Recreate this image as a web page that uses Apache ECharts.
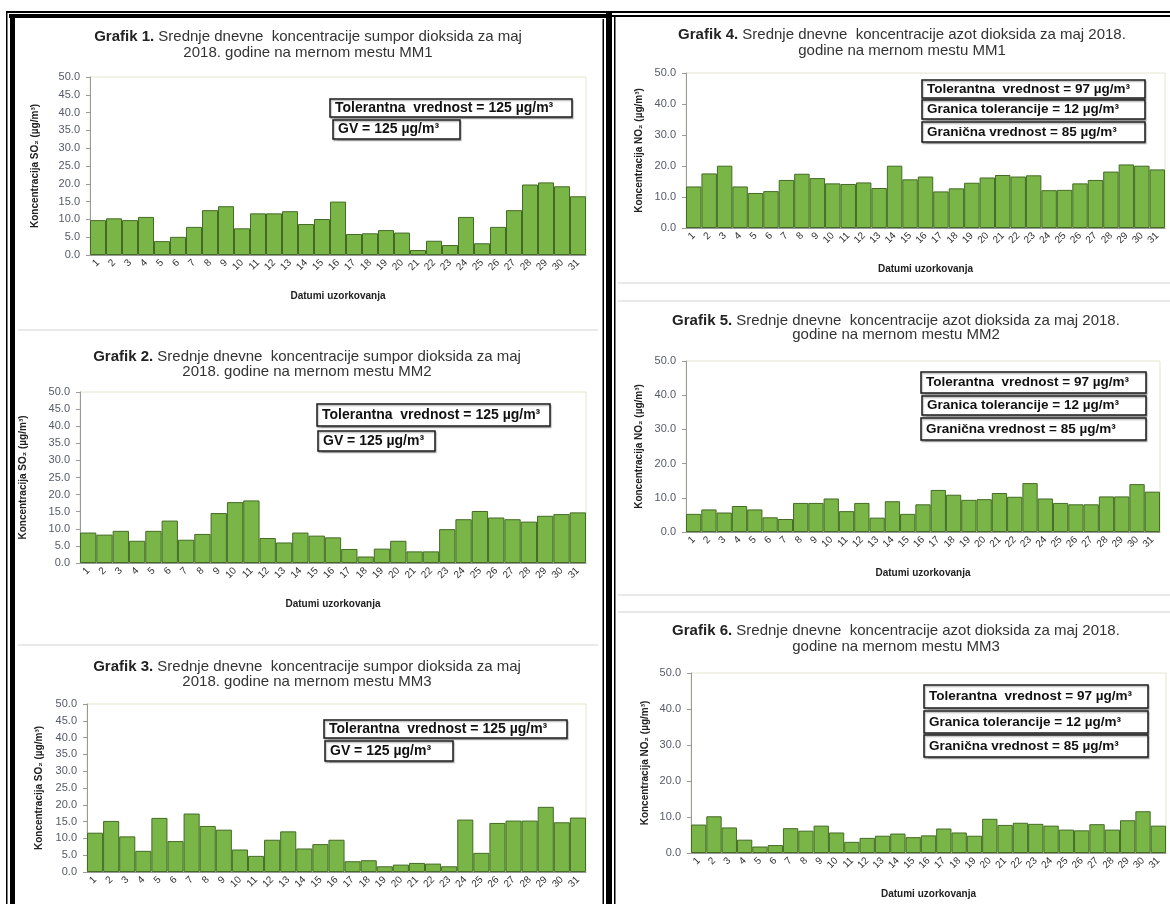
<!DOCTYPE html>
<html>
<head>
<meta charset="utf-8">
<script src="https://cdn.jsdelivr.net/npm/echarts@6/dist/echarts.min.js"></script>
<style>
  html, body { margin: 0; padding: 0; background: #ffffff; }
  #chart { width: 1170px; height: 904px; }
</style>
</head>
<body>
<div id="chart"></div>
<script>
// Days of May 2018
const days = ['1','2','3','4','5','6','7','8','9','10','11','12','13','14','15','16',
              '17','18','19','20','21','22','23','24','25','26','27','28','29','30','31'];

// Daily mean SO2 concentrations (µg/m³)
const so2MM1 = [9.8, 10.3, 9.8, 10.7, 3.9, 5.1, 7.9, 12.6, 13.7, 7.5, 11.7, 11.7, 12.3, 8.7, 10.1, 15.0,
                5.9, 6.1, 7.0, 6.3, 1.4, 4.0, 2.8, 10.7, 3.3, 7.9, 12.6, 19.8, 20.4, 19.3, 16.5];
const so2MM2 = [8.9, 8.3, 9.4, 6.5, 9.4, 12.4, 6.8, 8.5, 14.6, 17.8, 18.3, 7.3, 6.0, 8.9, 8.0, 7.5,
                4.1, 1.9, 4.2, 6.5, 3.4, 3.4, 9.9, 12.8, 15.2, 13.3, 12.8, 12.1, 13.8, 14.3, 14.8];
const so2MM3 = [11.7, 15.2, 10.6, 6.3, 16.1, 9.2, 17.4, 13.7, 12.6, 6.7, 4.8, 9.6, 12.1, 7.0, 8.3, 9.6,
                3.2, 3.5, 1.7, 2.2, 2.7, 2.5, 1.7, 15.6, 5.7, 14.6, 15.3, 15.3, 19.4, 14.8, 16.2];

// Daily mean NO2 concentrations (µg/m³)
const no2MM1 = [13.4, 17.6, 20.1, 13.4, 11.3, 11.9, 15.5, 17.5, 16.1, 14.4, 14.2, 14.7, 12.9, 20.1, 15.7, 16.6,
                11.8, 12.8, 14.6, 16.3, 17.1, 16.6, 17.0, 12.2, 12.3, 14.4, 15.5, 18.2, 20.5, 20.1, 18.9];
const no2MM2 = [5.3, 6.6, 5.7, 7.6, 6.6, 4.3, 3.8, 8.5, 8.5, 9.8, 6.1, 8.5, 4.2, 9.0, 5.3, 8.1,
                12.3, 10.9, 9.4, 9.6, 11.4, 10.3, 14.3, 9.8, 8.5, 8.1, 8.1, 10.4, 10.4, 14.0, 11.8];
const no2MM3 = [7.9, 10.2, 7.1, 3.7, 1.8, 2.2, 6.9, 6.2, 7.6, 5.7, 3.1, 4.2, 4.8, 5.4, 4.4, 4.9,
                6.8, 5.7, 4.8, 9.5, 7.8, 8.4, 8.1, 7.6, 6.5, 6.3, 8.0, 6.5, 9.1, 11.6, 7.6];

// Value axis ticks
const so2Axis = { min: 0, max: 50, interval: 5 };
const no2Axis = { min: 0, max: 50, interval: 10 };

// Limit value notes
const so2Notes = ['Tolerantna  vrednost = 125 µg/m³', 'GV = 125 µg/m³'];
const no2Notes = ['Tolerantna  vrednost = 97 µg/m³', 'Granica tolerancije = 12 µg/m³', 'Granična vrednost = 85 µg/m³'];

const so2Title = ['Srednje dnevne  koncentracije sumpor dioksida za maj', '2018. godine na mernom mestu '];
const no2Title = ['Srednje dnevne  koncentracije azot dioksida za maj 2018.', 'godine na mernom mestu '];

const xName = 'Datumi uzorkovanja';
const FONT = '"Liberation Sans", Arial, sans-serif';

// Layout of the six panels (pixels)
const panels = [
  { num: 1, station: 'MM1', data: so2MM1, axis: so2Axis, notes: so2Notes, title: so2Title, yName: 'Koncentracija SO₂ (µg/m³)',
    grid: { left: 90, top: 77, right: 586, bottom: 255 }, tx: 308, ty: [37, 53], yGap: 50, noteFont: 14, showXName: true,
    boxes: [[330, 99, 572, 117], [333, 120, 460, 139]] },
  { num: 2, station: 'MM2', data: so2MM2, axis: so2Axis, notes: so2Notes, title: so2Title, yName: 'Koncentracija SO₂ (µg/m³)',
    grid: { left: 80, top: 392, right: 586, bottom: 563 }, tx: 307, ty: [357, 372], yGap: 52, noteFont: 14, showXName: true,
    boxes: [[317, 404, 550, 426], [318, 431, 435, 451]] },
  { num: 3, station: 'MM3', data: so2MM3, axis: so2Axis, notes: so2Notes, title: so2Title, yName: 'Koncentracija SO₂ (µg/m³)',
    grid: { left: 87, top: 704, right: 586, bottom: 872 }, tx: 307, ty: [667, 682], yGap: 43, noteFont: 14, showXName: false,
    boxes: [[324, 720, 567, 738], [325, 741, 453, 761]] },
  { num: 4, station: 'MM1', data: no2MM1, axis: no2Axis, notes: no2Notes, title: no2Title, yName: 'Koncentracija NO₂ (µg/m³)',
    grid: { left: 686, top: 73, right: 1165, bottom: 228 }, tx: 902, ty: [35, 51], yGap: 42, noteFont: 13.5, showXName: true,
    boxes: [[922, 80, 1145, 98], [922, 100, 1145, 119], [922, 122, 1145, 142]] },
  { num: 5, station: 'MM2', data: no2MM2, axis: no2Axis, notes: no2Notes, title: no2Title, yName: 'Koncentracija NO₂ (µg/m³)',
    grid: { left: 686, top: 361, right: 1160, bottom: 532 }, tx: 896, ty: [321, 335], yGap: 42, noteFont: 13.5, showXName: true,
    boxes: [[921, 372, 1146, 393], [922, 396, 1146, 415], [921, 418, 1146, 440]] },
  { num: 6, station: 'MM3', data: no2MM3, axis: no2Axis, notes: no2Notes, title: no2Title, yName: 'Koncentracija NO₂ (µg/m³)',
    grid: { left: 691, top: 673, right: 1166, bottom: 853 }, tx: 896, ty: [631, 647], yGap: 41, noteFont: 13.5, showXName: true,
    boxes: [[924, 685, 1148, 708], [924, 711, 1148, 733], [924, 735, 1148, 757]] }
];

const grids = [], xAxes = [], yAxes = [], series = [], graphics = [];

panels.forEach((p, i) => {
  const g = p.grid;
  grids.push({
    left: g.left, top: g.top, width: g.right - g.left, height: g.bottom - g.top,
    show: true, borderColor: '#e6e4cc', borderWidth: 1, backgroundColor: 'transparent'
  });
  xAxes.push({
    type: 'category', gridIndex: i, data: days,
    axisLine: { show: true, lineStyle: { color: '#9a9a9a', width: 1 } },
    axisTick: { show: false },
    axisLabel: { interval: 0, rotate: 45, fontSize: 10, color: '#333', fontFamily: FONT, margin: 6 },
    name: p.showXName ? xName : '', nameLocation: 'middle', nameGap: 36,
    nameTextStyle: { fontSize: 10, fontWeight: 'bold', color: '#222', fontFamily: FONT }
  });
  yAxes.push({
    type: 'value', gridIndex: i, min: p.axis.min, max: p.axis.max, interval: p.axis.interval,
    axisLine: { show: true, lineStyle: { color: '#9a9a9a', width: 1 } },
    axisTick: { show: true, length: 4, lineStyle: { color: '#9a9a9a' } },
    splitLine: { show: false },
    axisLabel: { fontSize: 11, color: '#555a66', fontFamily: FONT, margin: 10, formatter: v => v.toFixed(1) },
    name: p.yName, nameLocation: 'middle', nameGap: p.yGap, nameRotate: 90,
    nameTextStyle: { fontSize: 10, fontWeight: 'bold', color: '#222', fontFamily: FONT }
  });
  series.push({
    type: 'bar', xAxisIndex: i, yAxisIndex: i, data: p.data,
    barCategoryGap: '0%',
    itemStyle: { color: '#7ab547', borderColor: '#436b25', borderWidth: 1 },
    emphasis: { disabled: true }, silent: true
  });

  // Two-line heading
  graphics.push({
    type: 'text', x: p.tx, y: p.ty[0], silent: true,
    style: {
      text: '{b|Grafik ' + p.num + '.} ' + p.title[0],
      rich: { b: { fontWeight: 'bold', fontSize: 15, fontFamily: FONT, fill: '#222' } },
      fontSize: 15, fontFamily: FONT, fill: '#333', align: 'center', verticalAlign: 'middle'
    }
  });
  graphics.push({
    type: 'text', x: p.tx, y: p.ty[1], silent: true,
    style: { text: p.title[1] + p.station, fontSize: 15, fontFamily: FONT, fill: '#333', align: 'center', verticalAlign: 'middle' }
  });

  // Limit value note boxes
  p.boxes.forEach((b, k) => {
    graphics.push({
      type: 'rect', silent: true,
      shape: { x: b[0], y: b[1], width: b[2] - b[0], height: b[3] - b[1] },
      style: { fill: '#ffffff', stroke: '#1a1a1a', lineWidth: 1.5, shadowColor: 'rgba(0,0,0,0.25)', shadowOffsetX: 1, shadowOffsetY: 1.5, shadowBlur: 1 }
    });
    graphics.push({
      type: 'text', silent: true, x: b[0] + 5, y: (b[1] + b[3]) / 2,
      style: { text: p.notes[k], fontSize: p.noteFont, fontWeight: 'bold', fontFamily: FONT, fill: '#111', verticalAlign: 'middle' }
    });
  });
});

// Page frames around the two columns
const black = { fill: '#000' };
[
  [6, 11, 1164, 2],     // outer top rule
  [9, 14, 603, 4],      // left column top band
  [612, 15, 558, 2],    // right column top rule
  [6, 11, 1.5, 893],    // outer left rule
  [10, 14, 5, 890],     // left column thick edge
  [602.5, 19, 1.5, 885],// left column inner right rule
  [606, 11, 6, 893],    // column divider
  [614, 17, 1.5, 887]   // right column left rule
].forEach(r => graphics.push({ type: 'rect', silent: true, shape: { x: r[0], y: r[1], width: r[2], height: r[3] }, style: black }));

// Faint separators between stacked charts
[[18, 330, 598], [18, 645, 598], [618, 283, 1170], [618, 301, 1170], [618, 595, 1170], [618, 612, 1170]].forEach(l =>
  graphics.push({ type: 'line', silent: true, shape: { x1: l[0], y1: l[1], x2: l[2], y2: l[1] }, style: { stroke: '#e2e2e2', lineWidth: 1.5 } })
);

const chart = echarts.init(document.getElementById('chart'), null, { renderer: 'canvas' });
chart.setOption({
  animation: false,
  backgroundColor: '#ffffff',
  grid: grids, xAxis: xAxes, yAxis: yAxes, series: series,
  graphic: { elements: graphics }
});
</script>
</body>
</html>
